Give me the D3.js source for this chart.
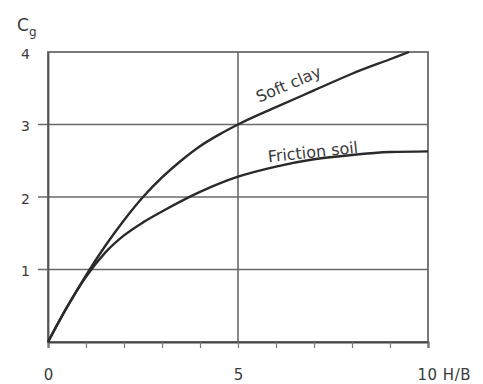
<!DOCTYPE html>
<html>
<head>
<meta charset="utf-8">
<script src="https://cdn.jsdelivr.net/npm/d3@7"></script>
<style>
  body { margin: 0; background: #fff; }
  text { font-family: "DejaVu Sans", sans-serif; fill: #3a3a3a; }
</style>
</head>
<body>
<div id="chart"></div>
<script>
// values
var softClayX = [0, 0.5, 1, 1.5, 2, 2.5, 3, 3.5, 4, 4.5, 5, 6, 7, 8, 9, 9.5];
var softClayY = [0, 0.48, 0.92, 1.32, 1.68, 2.0, 2.27, 2.5, 2.7, 2.86, 3.0, 3.24, 3.47, 3.7, 3.9, 4.0];
var frictionX = [0, 0.5, 1, 1.5, 2, 2.5, 3, 4, 5, 6, 7, 8, 9, 10];
var frictionY = [0, 0.48, 0.9, 1.23, 1.47, 1.65, 1.8, 2.07, 2.28, 2.42, 2.52, 2.58, 2.62, 2.63];
var xTicks = [0, 1, 2, 3, 4, 5, 6, 7, 8, 9, 10];
var xLabels = {0: "0", 5: "5", 10: "10 H/B"};
var yTicks = [1, 2, 3, 4];

var svgWidth = 483;
var svgHeight = 384;
var margin = {top: 52, right: 55, bottom: 42, left: 48};
var width = svgWidth - margin.left - margin.right;
var height = svgHeight - margin.top - margin.bottom;

var svg = d3.select("#chart").append("svg")
    .attr("width", svgWidth)
    .attr("height", svgHeight);

var g = svg.append("g")
    .attr("transform", `translate(${margin.left}, ${margin.top})`);

var x = d3.scaleLinear().domain([0, 10]).range([0, width]);
var y = d3.scaleLinear().domain([0, 4]).range([height, 0]);

// horizontal grid lines with a short tick to the left
g.selectAll(".hgrid")
    .data([1, 2, 3])
    .enter().append("line")
    .attr("x1", -10)
    .attr("x2", width)
    .attr("y1", d => y(d))
    .attr("y2", d => y(d))
    .attr("stroke", "#6a6a6a")
    .attr("stroke-width", 1.6);

// vertical grid line at 5
g.append("line")
    .attr("x1", x(5)).attr("x2", x(5))
    .attr("y1", 0).attr("y2", height)
    .attr("stroke", "#6a6a6a")
    .attr("stroke-width", 1.6);

// frame
g.append("rect")
    .attr("x", 0).attr("y", 0)
    .attr("width", width).attr("height", height)
    .attr("fill", "none")
    .attr("stroke", "#6a6a6a")
    .attr("stroke-width", 1.8);

// x axis
var xAxis = d3.axisBottom(x)
    .tickValues(xTicks)
    .tickSize(6)
    .tickPadding(21)
    .tickFormat(d => xLabels[d] || "");

var xg = g.append("g")
    .attr("transform", `translate(0, ${height})`)
    .call(xAxis);
xg.select(".domain").attr("stroke", "#444").attr("stroke-width", 2);
xg.selectAll(".tick line").attr("stroke", "#777").attr("stroke-width", 1.2);
xg.selectAll(".tick text")
    .style("font-size", "15px")
    .attr("fill", "#3a3a3a");
xg.selectAll(".tick text").filter(d => d == 10)
    .attr("text-anchor", "start")
    .attr("dx", -11)
    .style("letter-spacing", "0.5px");

// y axis labels
var yAxis = d3.axisLeft(y)
    .tickValues(yTicks)
    .tickSize(0)
    .tickPadding(18)
    .tickFormat(d3.format("d"));
var yg = g.append("g").call(yAxis);
yg.select(".domain").attr("stroke", "#555").attr("stroke-width", 1.8);
yg.selectAll(".tick text")
    .style("font-size", "14px")
    .attr("fill", "#3a3a3a")
    .attr("dy", "0.45em");

// curves
var line = d3.line()
    .x(d => x(d[0]))
    .y(d => y(d[1]))
    .curve(d3.curveMonotoneX);

g.append("path")
    .datum(d3.zip(frictionX, frictionY))
    .attr("d", line)
    .attr("fill", "none")
    .attr("stroke", "#2a2a2a")
    .attr("stroke-width", 2.4);

g.append("path")
    .datum(d3.zip(softClayX, softClayY))
    .attr("d", line)
    .attr("fill", "none")
    .attr("stroke", "#2a2a2a")
    .attr("stroke-width", 2.4);

// curve labels
g.append("text")
    .attr("transform", `translate(${x(5.55)}, ${y(3.3)}) rotate(-23)`)
    .style("font-size", "16px")
    .text("Soft clay");

g.append("text")
    .attr("transform", `translate(${x(5.8)}, ${y(2.48)}) rotate(-6)`)
    .style("font-size", "16px")
    .text("Friction soil");

// y title C_g
var title = svg.append("text")
    .attr("x", 17)
    .attr("y", 31)
    .style("font-size", "17px");
title.append("tspan").text("C");
title.append("tspan")
    .attr("dy", 5)
    .style("font-size", "12px")
    .text("g");
</script>
</body>
</html>
